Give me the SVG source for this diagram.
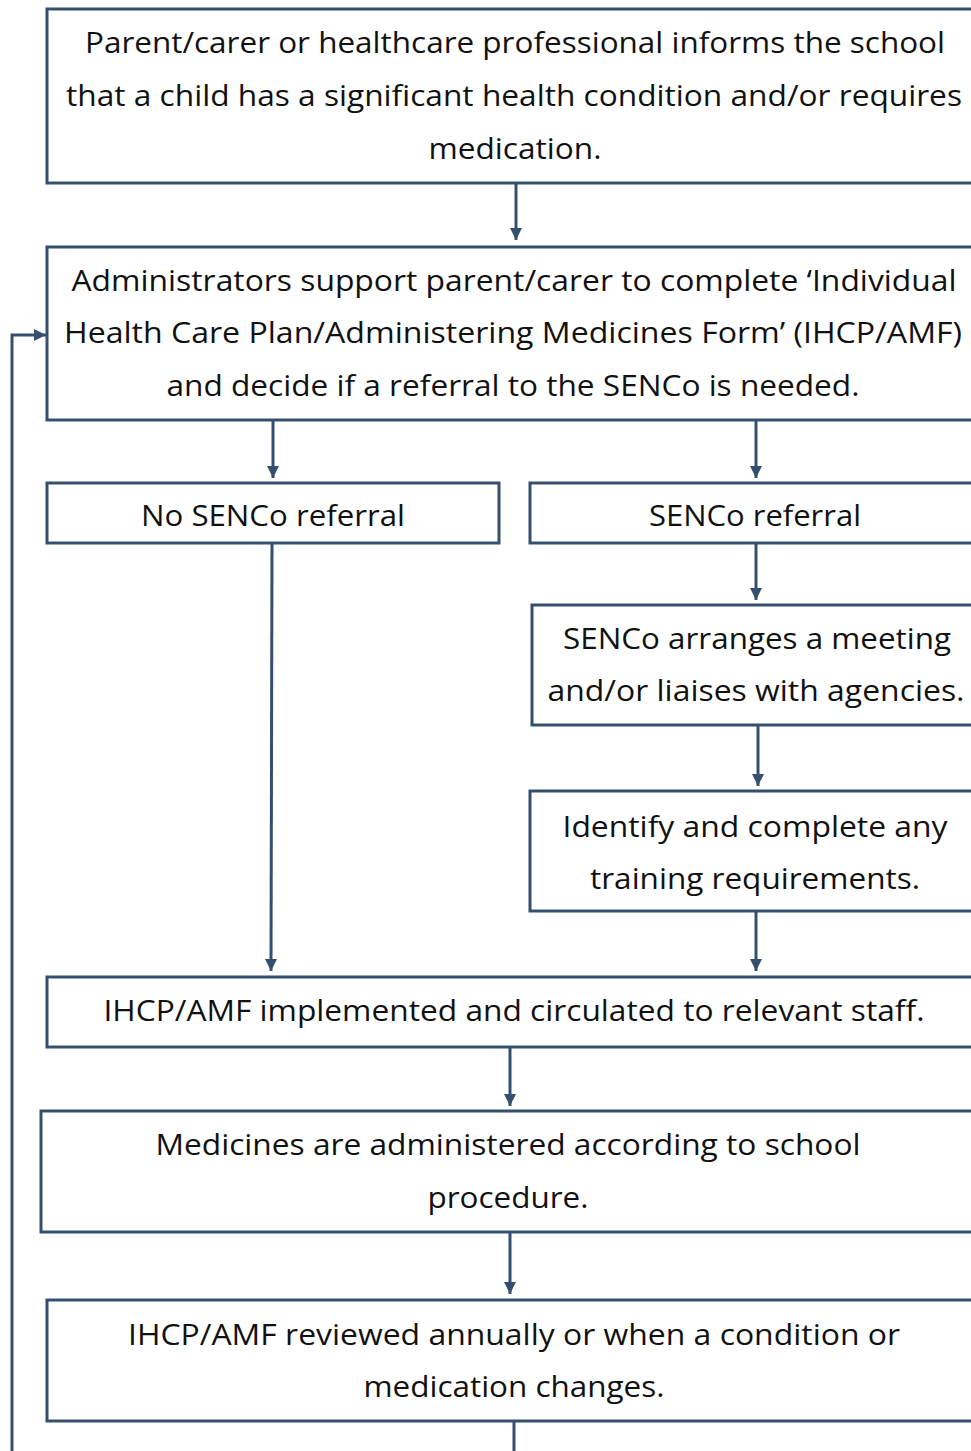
<svg xmlns="http://www.w3.org/2000/svg" width="971" height="1451" viewBox="0 0 971 1451">
<style>
.box{fill:#fff;stroke:#34506e;stroke-width:3}
.t{font-family:"Open Sans","Noto Sans",sans-serif;font-size:30px;fill:#111;text-anchor:middle}
.c{stroke:#34506e;stroke-width:3;fill:none}
</style>
<defs>
<marker id="ah" viewBox="0 0 10 10" refX="10" refY="5" markerWidth="4" markerHeight="4" orient="auto" markerUnits="strokeWidth">
<path d="M0,0 L10,5 L0,10 Z" fill="#34506e"/>
</marker>
</defs>
<rect width="971" height="1451" fill="#fff"/>
<g id="connectors">
<line class="c" x1="516" y1="183" x2="516" y2="240" marker-end="url(#ah)"/>
<line class="c" x1="273" y1="420" x2="273" y2="478" marker-end="url(#ah)"/>
<line class="c" x1="756" y1="420" x2="756" y2="478" marker-end="url(#ah)"/>
<line class="c" x1="756" y1="543" x2="756" y2="600" marker-end="url(#ah)"/>
<line class="c" x1="758" y1="725" x2="758" y2="786" marker-end="url(#ah)"/>
<line class="c" x1="756" y1="911" x2="756" y2="971" marker-end="url(#ah)"/>
<line class="c" x1="272" y1="543" x2="271" y2="971" marker-end="url(#ah)"/>
<line class="c" x1="510" y1="1047" x2="510" y2="1106" marker-end="url(#ah)"/>
<line class="c" x1="510" y1="1232" x2="510" y2="1294" marker-end="url(#ah)"/>
<line class="c" x1="514" y1="1421" x2="514" y2="1451"/>
<polyline class="c" points="12,1451 12,335 46,335" marker-end="url(#ah)"/>
</g>
<g id="n1">
<rect class="box" x="47" y="9" width="930" height="174"/>
<text class="t" x="515" y="53" textLength="860" lengthAdjust="spacingAndGlyphs">Parent/carer or healthcare professional informs the school</text>
<text class="t" x="514" y="106" textLength="896" lengthAdjust="spacingAndGlyphs">that a child has a significant health condition and/or requires</text>
<text class="t" x="515" y="159" textLength="173" lengthAdjust="spacingAndGlyphs">medication.</text>
</g>
<g id="n2">
<rect class="box" x="47" y="247" width="930" height="173"/>
<text class="t" x="514" y="291" textLength="885" lengthAdjust="spacingAndGlyphs">Administrators support parent/carer to complete ‘Individual</text>
<text class="t" x="513" y="343" textLength="898" lengthAdjust="spacingAndGlyphs">Health Care Plan/Administering Medicines Form’ (IHCP/AMF)</text>
<text class="t" x="513" y="396" textLength="693" lengthAdjust="spacingAndGlyphs">and decide if a referral to the SENCo is needed.</text>
</g>
<g id="n3">
<rect class="box" x="47" y="483" width="452" height="60"/>
<text class="t" x="273" y="526" textLength="264" lengthAdjust="spacingAndGlyphs">No SENCo referral</text>
</g>
<g id="n4">
<rect class="box" x="530" y="483" width="447" height="60"/>
<text class="t" x="755" y="526" textLength="212" lengthAdjust="spacingAndGlyphs">SENCo referral</text>
</g>
<g id="n5">
<rect class="box" x="532" y="605" width="445" height="120"/>
<text class="t" x="757" y="649" textLength="388" lengthAdjust="spacingAndGlyphs">SENCo arranges a meeting</text>
<text class="t" x="756" y="701" textLength="417" lengthAdjust="spacingAndGlyphs">and/or liaises with agencies.</text>
</g>
<g id="n6">
<rect class="box" x="530" y="791" width="447" height="120"/>
<text class="t" x="755" y="837" textLength="385" lengthAdjust="spacingAndGlyphs">Identify and complete any</text>
<text class="t" x="755" y="889" textLength="330" lengthAdjust="spacingAndGlyphs">training requirements.</text>
</g>
<g id="n7">
<rect class="box" x="47" y="977" width="930" height="70"/>
<text class="t" x="514" y="1021" textLength="821" lengthAdjust="spacingAndGlyphs">IHCP/AMF implemented and circulated to relevant staff.</text>
</g>
<g id="n8">
<rect class="box" x="41" y="1111" width="936" height="121"/>
<text class="t" x="508" y="1155" textLength="705" lengthAdjust="spacingAndGlyphs">Medicines are administered according to school</text>
<text class="t" x="508" y="1208" textLength="161" lengthAdjust="spacingAndGlyphs">procedure.</text>
</g>
<g id="n9">
<rect class="box" x="47" y="1300" width="930" height="121"/>
<text class="t" x="514" y="1345" textLength="772" lengthAdjust="spacingAndGlyphs">IHCP/AMF reviewed annually or when a condition or</text>
<text class="t" x="514" y="1397" textLength="301" lengthAdjust="spacingAndGlyphs">medication changes.</text>
</g>
</svg>
